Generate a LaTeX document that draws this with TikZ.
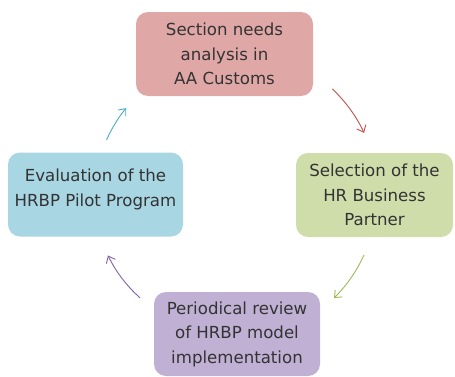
\documentclass[tikz,border=0pt]{standalone}
\usepackage{fontspec}
\setmainfont{DejaVu Sans}
\usepackage{tikz}
\usetikzlibrary{positioning,arrows.meta,calc}
\definecolor{boxred}{HTML}{E0A7A7}
\definecolor{boxgreen}{HTML}{CFDDAB}
\definecolor{boxblue}{HTML}{A8D6E3}
\definecolor{boxpurple}{HTML}{BFB0D4}
\definecolor{arrred}{HTML}{C0504D}
\definecolor{arrgreen}{HTML}{9BBB59}
\definecolor{arrpurple}{HTML}{8064A2}
\definecolor{arrblue}{HTML}{4BACC6}
\definecolor{txtgray}{HTML}{333333}
\tikzset{
  stage/.style={rounded corners=12pt, inner sep=0pt, align=center, text=txtgray,
    font=\fontsize{16.6pt}{24.5pt}\selectfont, minimum height=84pt},
  cycarrow/.style={line width=0.9pt, -{Straight Barb[length=6pt,width=10pt]}}
}

\begin{document}
\begin{tikzpicture}[x=1pt,y=1pt]
  \useasboundingbox (0,0) rectangle (455,376);
  \coordinate (mid) at (232,181);
  \node[stage, fill=boxred, minimum width=177pt] (needs) at (224.5,322)
    {Section needs\\analysis in\\AA Customs};
  \node[stage, fill=boxgreen, minimum width=157pt] (select) at (374.5,181)
    {Selection of the\\HR Business\\Partner};
  \node[stage, fill=boxpurple, minimum width=166pt] (review) at (237,42)
    {Periodical review\\of HRBP model\\implementation};
  \node[stage, fill=boxblue, minimum width=175pt] (eval) at (95.5,181.5) {};
  \node[align=center, text=txtgray, font=\fontsize{16.6pt}{24.5pt}\selectfont, inner sep=0pt]
    (evaltext) at ([yshift=5pt]eval.center) {Evaluation of the\\HRBP Pilot Program};
  % arrows round the cycle
  \draw[cycarrow, arrred] ($(mid)+(46.6:146)$) arc[start angle=46.6, end angle=25.2, radius=146pt];
  \draw[cycarrow, arrgreen] ($(mid)+(-24.4:145)$) arc[start angle=-24.4, end angle=-45.3, radius=145pt];
  \draw[cycarrow, arrpurple] ($(mid)+(228.2:138)$) arc[start angle=228.2, end angle=206, radius=138pt];
  \draw[cycarrow, arrblue] ($(mid)+(156.3:137)$) arc[start angle=156.3, end angle=140.6, radius=137pt];
\end{tikzpicture}
\end{document}
